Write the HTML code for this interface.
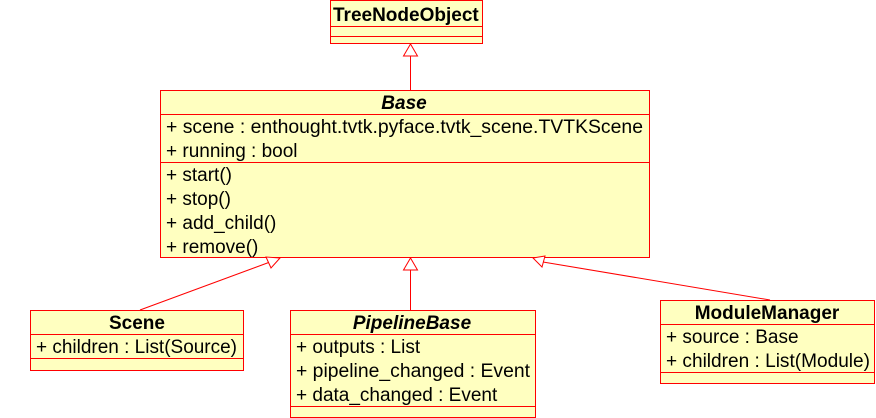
<!DOCTYPE html>
<html><head><meta charset="utf-8"><style>
html,body{margin:0;padding:0;background:#fff;}
svg{display:block;}
text{font-family:"Liberation Sans",Arial,sans-serif;font-size:19px;fill:#000;}
.b{font-weight:bold;}
.bi{font-weight:bold;font-style:italic;}
</style></head><body>
<svg width="876" height="418" viewBox="0 0 876 418" xmlns="http://www.w3.org/2000/svg">
<g fill="#ffffc0" stroke="#ff0000" stroke-width="1">
<rect x="330.5" y="0.5" width="152" height="43"/>
<line x1="330" y1="26.5" x2="483" y2="26.5"/>
<line x1="330" y1="36.5" x2="483" y2="36.5"/>
<rect x="160.5" y="90.5" width="489" height="167"/>
<line x1="160" y1="114.5" x2="650" y2="114.5"/>
<line x1="160" y1="162.5" x2="650" y2="162.5"/>
<rect x="30.5" y="310.5" width="213" height="60"/>
<line x1="30" y1="334.5" x2="244" y2="334.5"/>
<line x1="30" y1="358.5" x2="244" y2="358.5"/>
<rect x="290.5" y="310.5" width="245" height="107"/>
<line x1="290" y1="334.5" x2="536" y2="334.5"/>
<line x1="290" y1="406.5" x2="536" y2="406.5"/>
<rect x="660.5" y="300.5" width="214" height="83"/>
<line x1="660" y1="324.5" x2="875" y2="324.5"/>
<line x1="660" y1="372.5" x2="875" y2="372.5"/>
</g>
<g stroke="#ff0000" stroke-width="1" fill="#fff">
<line x1="410.5" y1="56" x2="410.5" y2="90"/>
<polygon points="410.5,44 403.5,56 417.5,56"/>
<line x1="410.5" y1="270" x2="410.5" y2="310"/>
<polygon points="410.5,258 403.5,270 417.5,270"/>
<line x1="140" y1="310" x2="270" y2="262"/>
<polygon points="280,258 266,257 271,268"/>
<line x1="770" y1="300" x2="543" y2="262"/>
<polygon points="533,258 545,256 542,267"/>
</g>
<svg x="330" y="0" width="152" height="27" overflow="hidden"><text x="3" y="21" class="b">TreeNodeObject</text></svg>
<text x="404" y="109" class="bi" text-anchor="middle">Base</text>
<text x="166" y="133" textLength="477" lengthAdjust="spacingAndGlyphs">+ scene : enthought.tvtk.pyface.tvtk_scene.TVTKScene</text>
<text x="166" y="157">+ running : bool</text>
<text x="166" y="181">+ start()</text>
<text x="166" y="205">+ stop()</text>
<text x="166" y="229">+ add_child()</text>
<text x="166" y="253">+ remove()</text>
<text x="137" y="329" class="b" text-anchor="middle">Scene</text>
<text x="36" y="353" textLength="201" lengthAdjust="spacingAndGlyphs">+ children : List(Source)</text>
<text x="412" y="329" class="bi" text-anchor="middle">PipelineBase</text>
<text x="296" y="353">+ outputs : List</text>
<text x="296" y="377" textLength="234" lengthAdjust="spacingAndGlyphs">+ pipeline_changed : Event</text>
<text x="296" y="401">+ data_changed : Event</text>
<text x="767" y="319" class="b" text-anchor="middle">ModuleManager</text>
<text x="666" y="343">+ source : Base</text>
<text x="666" y="367" textLength="204" lengthAdjust="spacingAndGlyphs">+ children : List(Module)</text>
</svg>
</body></html>
